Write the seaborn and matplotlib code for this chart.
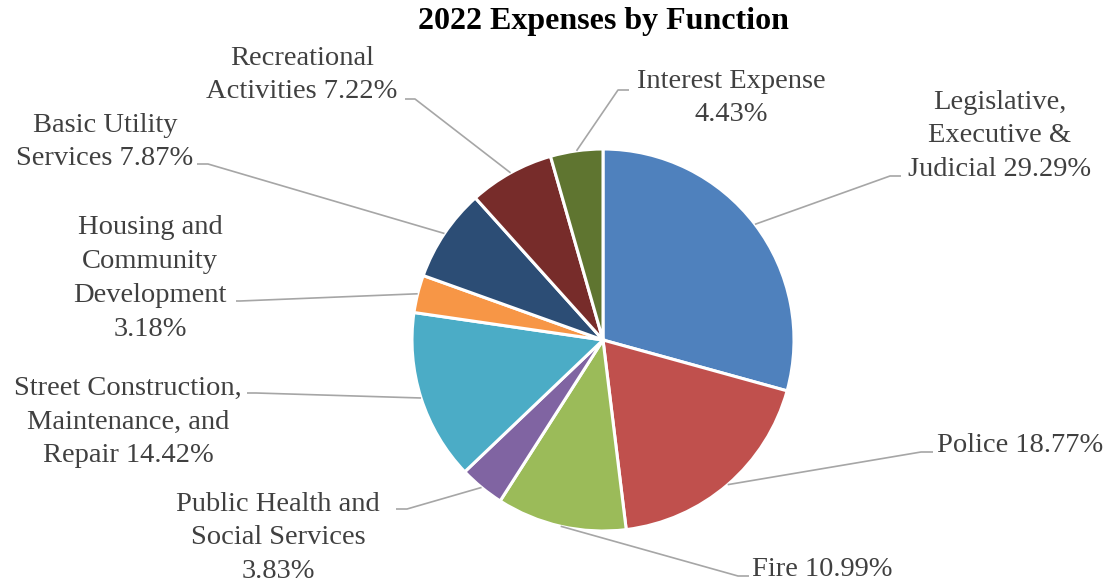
import numpy as np
import matplotlib
matplotlib.use("Agg")
import matplotlib.pyplot as plt
import seaborn as sns

# 2022 expenses by function, share of total (%)
functions = [
    "Legislative,\nExecutive &\nJudicial",
    "Police",
    "Fire",
    "Public Health and\nSocial Services\n",
    "Street Construction,\nMaintenance, and\nRepair",
    "Housing and\nCommunity\nDevelopment\n",
    "Basic Utility\nServices",
    "Recreational\nActivities",
    "Interest Expense\n",
]
shares = [29.29, 18.77, 10.99, 3.83, 14.42, 3.18, 7.87, 7.22, 4.43]
colors = ["#4F81BD", "#C0504D", "#9BBB59", "#8064A2", "#4BACC6",
          "#F79646", "#2C4D75", "#772C2A", "#5F7530"]

sns.set_theme(style="white")
plt.rcParams["font.family"] = ["Liberation Serif", "DejaVu Serif"]

W, H = 1112, 585
fig = plt.figure(figsize=(W / 100, H / 100), dpi=100)
ax = fig.add_axes([0, 0, 1, 1])

cx, cy, r = 603, H - 340, 191
palette = sns.color_palette(colors)
ax.pie(shares, colors=palette, startangle=90, counterclock=False,
       center=(cx, cy), radius=r,
       wedgeprops=dict(edgecolor="white", linewidth=2.2))
ax.set_xlim(0, W)
ax.set_ylim(0, H)
ax.set_aspect("auto")
ax.axis("off")

# label layout: text anchor (x, y in px from top), alignment,
# leader elbow and leader end next to the text
layout = [
    dict(xy=(1000, 136), ha="center", elbow=(890, 176), tip=(901, 176)),
    dict(xy=(937, 445), ha="left", elbow=(921, 452), tip=(933, 452)),
    dict(xy=(752, 570), ha="left", elbow=(738, 576), tip=(749, 576)),
    dict(xy=(278, 538), ha="center", elbow=(407, 509), tip=(396, 509)),
    dict(xy=(128, 422), ha="center", elbow=(256, 393), tip=(247, 393)),
    dict(xy=(150, 278.5), ha="center", elbow=(240, 301), tip=(236, 301)),
    dict(xy=(105, 142), ha="center", elbow=(208, 164), tip=(197, 164)),
    dict(xy=(302, 75), ha="center", elbow=(415, 99), tip=(405, 99)),
    dict(xy=(731, 98), ha="center", elbow=(618, 90), tip=(629, 90)),
]

total = sum(shares)
cum = 0.0
line_col = "#A6A6A6"
for name, val, lay in zip(functions, shares, layout):
    mid = cum + val / 2
    cum += val
    ang = np.deg2rad(90 - mid / total * 360)
    ex, ey = cx + r * np.cos(ang), cy + r * np.sin(ang)
    bx, by = lay["elbow"]
    tx, ty = lay["tip"]
    ax.plot([ex, bx, tx], [ey, H - by, H - ty], color=line_col, lw=1.2,
            solid_capstyle="butt", zorder=1)
    if name.endswith("\n"):
        text = name + f"{val:.2f}%"
    else:
        text = name + f" {val:.2f}%"
    x, y = lay["xy"]
    ax.text(x, H - y, text, ha=lay["ha"], va="center", multialignment="center",
            fontsize=20.5, color="#404040", linespacing=1.47)

ax.text(W / 2 + 47, H - 21, "2022 Expenses by Function", ha="center", va="center",
        fontsize=23, fontweight="bold", color="black")

fig.savefig("out.png", dpi=100)
